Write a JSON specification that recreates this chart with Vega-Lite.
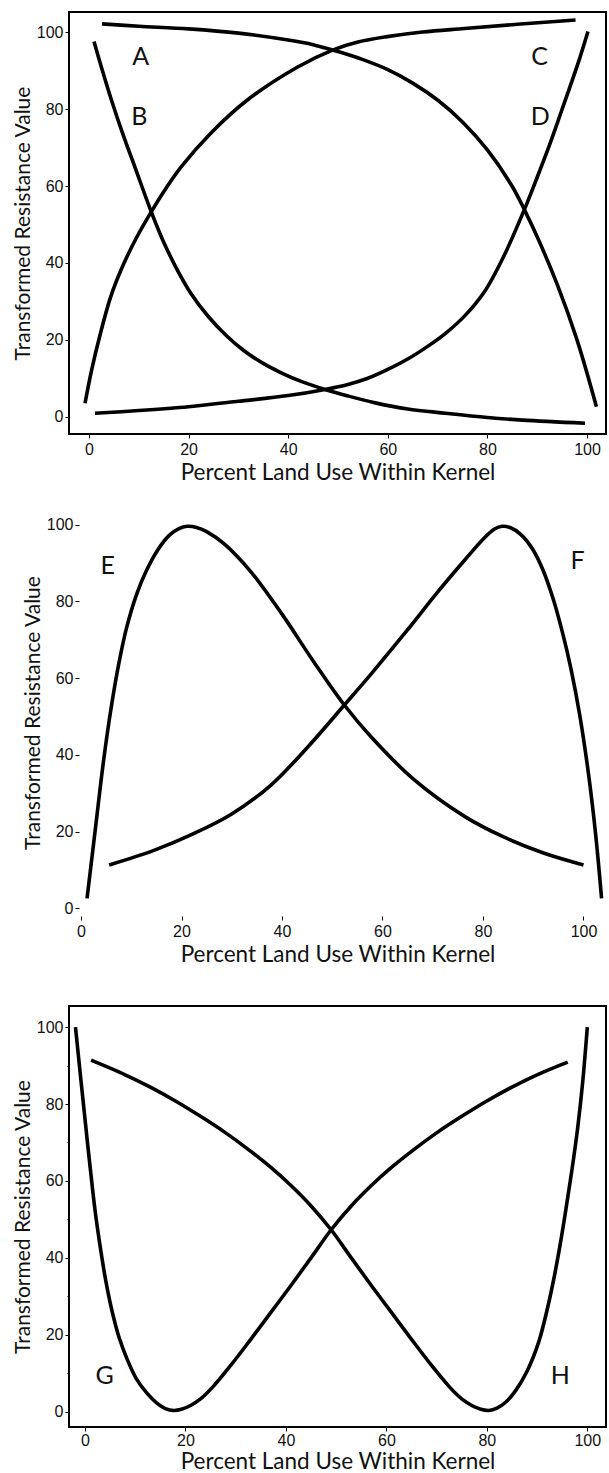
{
  "$schema": "https://vega.github.io/schema/vega-lite/v6.json",
  "padding": {"left": 11, "top": 11, "right": 0, "bottom": 0},
  "background": "white",
  "spacing": 23,
  "align": "all",
  "datasets": {
    "p1": [
      {"curve": "A", "x": 2.6, "y": 102.2}, {"curve": "A", "x": 10, "y": 101.6}, {"curve": "A", "x": 20, "y": 100.9}, {"curve": "A", "x": 30, "y": 99.8}, {"curve": "A", "x": 40, "y": 98.0}, {"curve": "A", "x": 45, "y": 96.8}, {"curve": "A", "x": 50, "y": 95.0}, {"curve": "A", "x": 55, "y": 92.9}, {"curve": "A", "x": 60, "y": 90.3}, {"curve": "A", "x": 65, "y": 86.8}, {"curve": "A", "x": 70, "y": 82.4}, {"curve": "A", "x": 75, "y": 76.7}, {"curve": "A", "x": 80, "y": 69.4}, {"curve": "A", "x": 85, "y": 59.9}, {"curve": "A", "x": 87.3, "y": 54.2}, {"curve": "A", "x": 90, "y": 46.8}, {"curve": "A", "x": 94, "y": 34.5}, {"curve": "A", "x": 98, "y": 20}, {"curve": "A", "x": 101.9, "y": 2.6},
      {"curve": "C", "x": -0.8, "y": 3.5}, {"curve": "C", "x": 0.5, "y": 12}, {"curve": "C", "x": 2.3, "y": 21.7}, {"curve": "C", "x": 4.3, "y": 31}, {"curve": "C", "x": 6.7, "y": 39}, {"curve": "C", "x": 9.5, "y": 46.5}, {"curve": "C", "x": 12.5, "y": 53.3}, {"curve": "C", "x": 15.5, "y": 59.5}, {"curve": "C", "x": 18.5, "y": 65}, {"curve": "C", "x": 24.4, "y": 73.7}, {"curve": "C", "x": 31.8, "y": 82.4}, {"curve": "C", "x": 41.9, "y": 91}, {"curve": "C", "x": 48.9, "y": 95.4}, {"curve": "C", "x": 54, "y": 97.5}, {"curve": "C", "x": 59.9, "y": 98.9}, {"curve": "C", "x": 67, "y": 100.1}, {"curve": "C", "x": 75.4, "y": 101}, {"curve": "C", "x": 86, "y": 102.1}, {"curve": "C", "x": 97.7, "y": 103.2},
      {"curve": "B", "x": 1, "y": 97.6}, {"curve": "B", "x": 2.7, "y": 90}, {"curve": "B", "x": 4.5, "y": 82.4}, {"curve": "B", "x": 6.8, "y": 73.5}, {"curve": "B", "x": 9.2, "y": 65}, {"curve": "B", "x": 12.5, "y": 53.3}, {"curve": "B", "x": 14.8, "y": 46}, {"curve": "B", "x": 17.4, "y": 39}, {"curve": "B", "x": 20.5, "y": 32}, {"curve": "B", "x": 24, "y": 26}, {"curve": "B", "x": 27.5, "y": 21.2}, {"curve": "B", "x": 31, "y": 17.3}, {"curve": "B", "x": 34.8, "y": 14}, {"curve": "B", "x": 38.8, "y": 11.3}, {"curve": "B", "x": 43, "y": 9}, {"curve": "B", "x": 47.4, "y": 7.1}, {"curve": "B", "x": 52, "y": 5.4}, {"curve": "B", "x": 57.5, "y": 3.6}, {"curve": "B", "x": 64, "y": 2}, {"curve": "B", "x": 71.6, "y": 0.9}, {"curve": "B", "x": 80, "y": -0.2}, {"curve": "B", "x": 87.1, "y": -0.9}, {"curve": "B", "x": 99.6, "y": -1.7},
      {"curve": "D", "x": 1.2, "y": 0.9}, {"curve": "D", "x": 10, "y": 1.6}, {"curve": "D", "x": 20, "y": 2.6}, {"curve": "D", "x": 30, "y": 4}, {"curve": "D", "x": 40, "y": 5.5}, {"curve": "D", "x": 47.4, "y": 7.1}, {"curve": "D", "x": 52, "y": 8.4}, {"curve": "D", "x": 56, "y": 10}, {"curve": "D", "x": 60, "y": 12.3}, {"curve": "D", "x": 64, "y": 15}, {"curve": "D", "x": 68, "y": 18.3}, {"curve": "D", "x": 71.6, "y": 21.7}, {"curve": "D", "x": 75.5, "y": 26.3}, {"curve": "D", "x": 79.3, "y": 32.3}, {"curve": "D", "x": 83.2, "y": 41.5}, {"curve": "D", "x": 87.3, "y": 53.5}, {"curve": "D", "x": 90, "y": 62.3}, {"curve": "D", "x": 92.5, "y": 70.8}, {"curve": "D", "x": 94.9, "y": 79.6}, {"curve": "D", "x": 97, "y": 87.4}, {"curve": "D", "x": 98.6, "y": 93.5}, {"curve": "D", "x": 100.2, "y": 100.2}
    ],
    "l1": [
      {"label": "A", "x": 10.4, "y": 93.7}, {"label": "B", "x": 10.1, "y": 78}, {"label": "C", "x": 90.5, "y": 93.7}, {"label": "D", "x": 90.6, "y": 78}
    ],
    "p2": [
      {"curve": "E", "x": 1.2, "y": 2.6}, {"curve": "E", "x": 2.9, "y": 21.2}, {"curve": "E", "x": 4.5, "y": 38.6}, {"curve": "E", "x": 6, "y": 52.3}, {"curve": "E", "x": 7.6, "y": 64.3}, {"curve": "E", "x": 9.1, "y": 73.3}, {"curve": "E", "x": 11.1, "y": 82}, {"curve": "E", "x": 13, "y": 88}, {"curve": "E", "x": 15.3, "y": 93.5}, {"curve": "E", "x": 17.6, "y": 97.3}, {"curve": "E", "x": 19.5, "y": 99}, {"curve": "E", "x": 21.1, "y": 99.6}, {"curve": "E", "x": 23, "y": 99.3}, {"curve": "E", "x": 25, "y": 98.2}, {"curve": "E", "x": 28.5, "y": 95}, {"curve": "E", "x": 33.9, "y": 87.6}, {"curve": "E", "x": 40.1, "y": 76.5}, {"curve": "E", "x": 46.2, "y": 64.5}, {"curve": "E", "x": 52.4, "y": 53}, {"curve": "E", "x": 57.8, "y": 44.6}, {"curve": "E", "x": 66.4, "y": 33.4}, {"curve": "E", "x": 76.4, "y": 23.9}, {"curve": "E", "x": 84.1, "y": 18.6}, {"curve": "E", "x": 91.9, "y": 14.5}, {"curve": "E", "x": 100, "y": 11.3},
      {"curve": "F", "x": 5.6, "y": 11.3}, {"curve": "F", "x": 14.5, "y": 15.1}, {"curve": "F", "x": 22.3, "y": 19.4}, {"curve": "F", "x": 30, "y": 24.6}, {"curve": "F", "x": 37.7, "y": 32}, {"curve": "F", "x": 45.5, "y": 42.6}, {"curve": "F", "x": 52.4, "y": 53}, {"curve": "F", "x": 57.8, "y": 61.2}, {"curve": "F", "x": 64.8, "y": 72.3}, {"curve": "F", "x": 71, "y": 82.5}, {"curve": "F", "x": 76.5, "y": 91}, {"curve": "F", "x": 80.2, "y": 96.5}, {"curve": "F", "x": 82.3, "y": 98.9}, {"curve": "F", "x": 83.8, "y": 99.6}, {"curve": "F", "x": 85.5, "y": 99.2}, {"curve": "F", "x": 87.5, "y": 97.5}, {"curve": "F", "x": 89.8, "y": 93.8}, {"curve": "F", "x": 92, "y": 88}, {"curve": "F", "x": 94, "y": 80.5}, {"curve": "F", "x": 95.8, "y": 72}, {"curve": "F", "x": 97.5, "y": 62.5}, {"curve": "F", "x": 99.3, "y": 50}, {"curve": "F", "x": 101, "y": 35}, {"curve": "F", "x": 102.4, "y": 19.5}, {"curve": "F", "x": 103.6, "y": 2.6}
    ],
    "l2": [
      {"label": "E", "x": 5.3, "y": 89.3}, {"label": "F", "x": 98.8, "y": 90.6}
    ],
    "p3": [
      {"curve": "G", "x": -1.9, "y": 100}, {"curve": "G", "x": -1.0, "y": 88.5}, {"curve": "G", "x": -0.2, "y": 78.5}, {"curve": "G", "x": 0.5, "y": 69.8}, {"curve": "G", "x": 1.2, "y": 61.4}, {"curve": "G", "x": 2, "y": 52.3}, {"curve": "G", "x": 2.9, "y": 43.9}, {"curve": "G", "x": 4, "y": 35}, {"curve": "G", "x": 5.3, "y": 26.6}, {"curve": "G", "x": 6.8, "y": 19.2}, {"curve": "G", "x": 8.4, "y": 13.6}, {"curve": "G", "x": 10.2, "y": 8.6}, {"curve": "G", "x": 12.2, "y": 5}, {"curve": "G", "x": 14.5, "y": 2}, {"curve": "G", "x": 16, "y": 0.8}, {"curve": "G", "x": 17.6, "y": 0.3}, {"curve": "G", "x": 19.2, "y": 0.6}, {"curve": "G", "x": 21, "y": 1.6}, {"curve": "G", "x": 23, "y": 3.3}, {"curve": "G", "x": 25.5, "y": 6.5}, {"curve": "G", "x": 29, "y": 12}, {"curve": "G", "x": 33, "y": 18.8}, {"curve": "G", "x": 37, "y": 25.8}, {"curve": "G", "x": 41, "y": 32.8}, {"curve": "G", "x": 45, "y": 40}, {"curve": "G", "x": 49, "y": 47.3}, {"curve": "G", "x": 53, "y": 53.5}, {"curve": "G", "x": 57, "y": 58.8}, {"curve": "G", "x": 61, "y": 63.5}, {"curve": "G", "x": 65, "y": 67.7}, {"curve": "G", "x": 70, "y": 72.5}, {"curve": "G", "x": 75, "y": 76.8}, {"curve": "G", "x": 80, "y": 80.8}, {"curve": "G", "x": 85, "y": 84.4}, {"curve": "G", "x": 90, "y": 87.6}, {"curve": "G", "x": 96.1, "y": 90.9},
      {"curve": "H", "x": 1.2, "y": 91.4}, {"curve": "H", "x": 8, "y": 87.6}, {"curve": "H", "x": 13, "y": 84.4}, {"curve": "H", "x": 18, "y": 80.8}, {"curve": "H", "x": 23, "y": 76.8}, {"curve": "H", "x": 28, "y": 72.5}, {"curve": "H", "x": 33, "y": 67.7}, {"curve": "H", "x": 37, "y": 63.5}, {"curve": "H", "x": 41, "y": 58.8}, {"curve": "H", "x": 45, "y": 53.5}, {"curve": "H", "x": 49, "y": 47.3}, {"curve": "H", "x": 53, "y": 40}, {"curve": "H", "x": 57, "y": 32.8}, {"curve": "H", "x": 61, "y": 25.8}, {"curve": "H", "x": 65, "y": 18.8}, {"curve": "H", "x": 69, "y": 12}, {"curve": "H", "x": 72.5, "y": 6.5}, {"curve": "H", "x": 75, "y": 3.3}, {"curve": "H", "x": 77, "y": 1.6}, {"curve": "H", "x": 78.8, "y": 0.6}, {"curve": "H", "x": 80.4, "y": 0.3}, {"curve": "H", "x": 82, "y": 0.9}, {"curve": "H", "x": 83.8, "y": 2.5}, {"curve": "H", "x": 85.8, "y": 5.6}, {"curve": "H", "x": 88, "y": 10.5}, {"curve": "H", "x": 90.3, "y": 18}, {"curve": "H", "x": 92, "y": 26.5}, {"curve": "H", "x": 93.4, "y": 35}, {"curve": "H", "x": 94.6, "y": 43.5}, {"curve": "H", "x": 95.7, "y": 52.3}, {"curve": "H", "x": 96.9, "y": 62.5}, {"curve": "H", "x": 98.1, "y": 74}, {"curve": "H", "x": 99.1, "y": 86}, {"curve": "H", "x": 100, "y": 100}
    ],
    "l3": [
      {"label": "G", "x": 3.9, "y": 9.3}, {"label": "H", "x": 94.6, "y": 9.3}
    ]
  },
  "vconcat": [
    {
      "width": 537, "height": 422,
      "layer": [
        {
          "data": {"name": "p1"},
          "mark": {"type": "line", "color": "#000", "strokeWidth": 3.6, "interpolate": "catmull-rom"},
          "encoding": {
            "x": {"field": "x", "type": "quantitative", "scale": {"domain": [-4.02, 103.82], "nice": false, "zero": false},
                  "axis": {"title": "Percent Land Use Within Kernel", "values": [0, 20, 40, 60, 80, 100], "labelPadding": 3, "titlePadding": 4}},
            "y": {"field": "y", "type": "quantitative", "scale": {"domain": [-4.5, 105.3], "nice": false, "zero": false},
                  "axis": {"title": "Transformed Resistance Value", "values": [0, 20, 40, 60, 80, 100], "titlePadding": 3}},
            "detail": {"field": "curve"}
          }
        },
        {
          "data": {"name": "l1"},
          "mark": {"type": "text", "font": "Lato", "fontSize": 25, "color": "#111"},
          "encoding": {
            "x": {"field": "x", "type": "quantitative"},
            "y": {"field": "y", "type": "quantitative"},
            "text": {"field": "label"}
          }
        }
      ]
    },
    {
      "width": 537, "height": 407,
      "view": {"stroke": null},
      "layer": [
        {
          "data": {"name": "p2"},
          "mark": {"type": "line", "color": "#000", "strokeWidth": 3.6, "interpolate": "catmull-rom"},
          "encoding": {
            "x": {"field": "x", "type": "quantitative", "scale": {"domain": [-2.39, 104.48], "nice": false, "zero": false},
                  "axis": {"title": "Percent Land Use Within Kernel", "values": [0, 20, 40, 60, 80, 100], "labelPadding": 3, "titlePadding": 4}},
            "y": {"field": "y", "type": "quantitative", "scale": {"domain": [-2.0, 104.1], "nice": false, "zero": false},
                  "axis": {"title": "Transformed Resistance Value", "values": [0, 20, 40, 60, 80, 100], "titlePadding": 3, "offset": -10}},
            "detail": {"field": "curve"}
          }
        },
        {
          "mark": {"type": "rect", "filled": false, "stroke": "#000", "strokeWidth": 2},
          "encoding": {
            "x": {"datum": -0.4, "type": "quantitative"},
            "x2": {"datum": 104.48},
            "y": {"datum": -2.0, "type": "quantitative"},
            "y2": {"datum": 104.1}
          }
        },
        {
          "data": {"name": "l2"},
          "mark": {"type": "text", "font": "Lato", "fontSize": 25, "color": "#111"},
          "encoding": {
            "x": {"field": "x", "type": "quantitative"},
            "y": {"field": "y", "type": "quantitative"},
            "text": {"field": "label"}
          }
        }
      ]
    },
    {
      "width": 537, "height": 421,
      "layer": [
        {
          "data": {"name": "p3"},
          "mark": {"type": "line", "color": "#000", "strokeWidth": 3.6, "interpolate": "catmull-rom"},
          "encoding": {
            "x": {"field": "x", "type": "quantitative", "scale": {"domain": [-3.19, 103.72], "nice": false, "zero": false},
                  "axis": {"title": "Percent Land Use Within Kernel", "values": [0, 20, 40, 60, 80, 100], "labelPadding": 1, "titlePadding": 2}},
            "y": {"field": "y", "type": "quantitative", "scale": {"domain": [-4.0, 105.5], "nice": false, "zero": false},
                  "axis": {"title": "Transformed Resistance Value", "values": [0, 10, 20, 30, 40, 50, 60, 70, 80, 90, 100], "titlePadding": 3,
                           "labelExpr": "datum.value % 20 === 0 ? datum.label : ''",
                           "tickSize": {"condition": {"test": "datum.value % 20 !== 0", "value": 2}, "value": 4}}},
            "detail": {"field": "curve"}
          }
        },
        {
          "data": {"name": "l3"},
          "mark": {"type": "text", "font": "Lato", "fontSize": 25, "color": "#111"},
          "encoding": {
            "x": {"field": "x", "type": "quantitative"},
            "y": {"field": "y", "type": "quantitative"},
            "text": {"field": "label"}
          }
        }
      ]
    }
  ],
  "config": {
    "view": {"stroke": "#000", "strokeWidth": 2},
    "axis": {"grid": false, "domain": false, "ticks": true, "tickColor": "#000", "tickSize": 4, "tickWidth": 1, "labelPadding": 2,
             "labelFont": "Liberation Sans", "labelFontSize": 16, "labelColor": "#111",
             "titleFont": "Lato", "titleFontSize": 22.5, "titleFontWeight": "normal", "titleColor": "#111"},
    "axisY": {"titleFontSize": 21}
  }
}
